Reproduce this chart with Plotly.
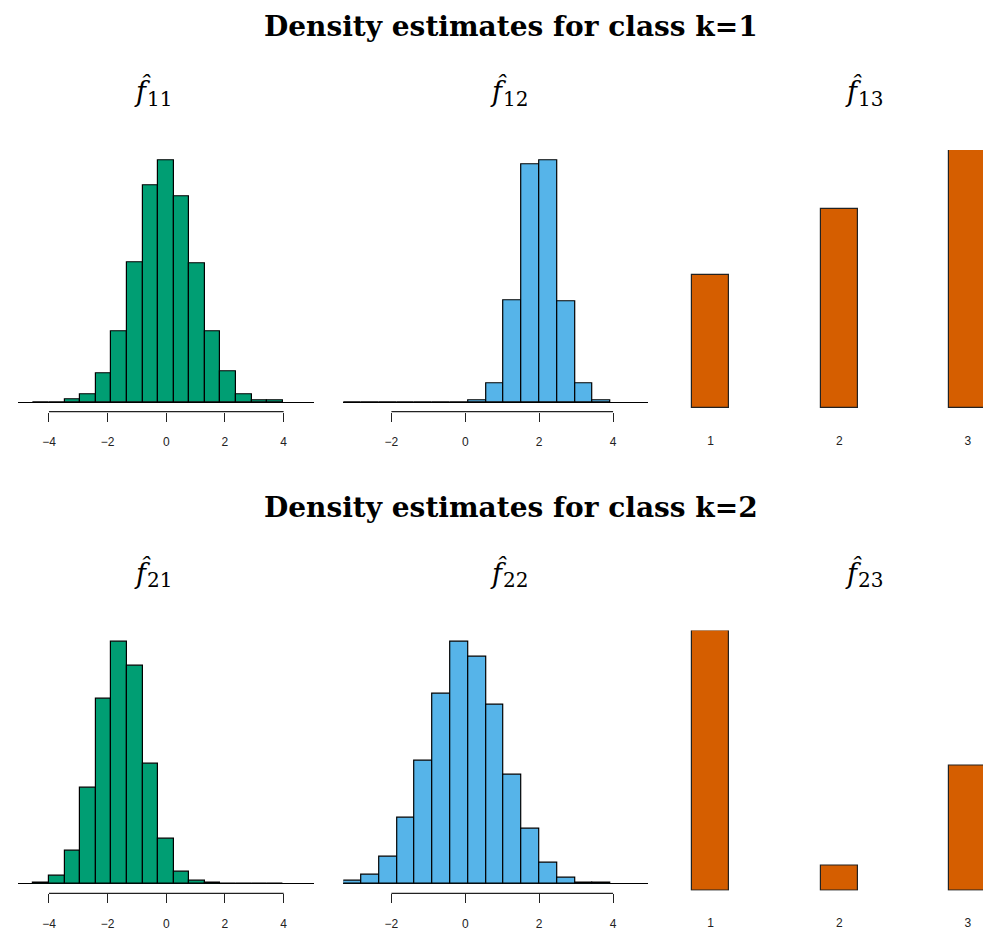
import numpy as np
import plotly.graph_objects as go

W, H = 983, 931

# ---------------- data ----------------
# bin edges (shared within each column)
edges_col1 = [-4.53, -4.00, -3.47, -2.94, -2.41, -1.87, -1.34, -0.81, -0.28,
              0.25, 0.78, 1.31, 1.84, 2.37, 2.91, 3.44, 3.97]
edges_col2 = [-3.30, -2.82, -2.34, -1.85, -1.37, -0.89, -0.41, 0.07, 0.56,
              1.04, 1.52, 2.00, 2.48, 2.97, 3.45, 3.93]

# density estimates, class k=1
f11 = [0, 0, 0.005, 0.013, 0.046, 0.115, 0.226, 0.350, 0.391, 0.332, 0.224,
       0.115, 0.049, 0.013, 0.002, 0.002]
f12 = [0, 0, 0, 0, 0, 0, 0, 0.004, 0.054, 0.292, 0.683, 0.694, 0.290,
       0.054, 0.004]
f13 = [0.225, 0.338, 0.437]

# density estimates, class k=2
f21 = [0.002, 0.016, 0.064, 0.188, 0.362, 0.473, 0.425, 0.234, 0.088,
       0.023, 0.005, 0.002, 0, 0, 0, 0]
f22 = [0.004, 0.015, 0.044, 0.109, 0.203, 0.313, 0.399, 0.373, 0.295,
       0.179, 0.091, 0.035, 0.009, 0.002, 0.002]
f23 = [0.633, 0.062, 0.305]

categories = [1, 2, 3]
ticks_col1 = [-4, -2, 0, 2, 4]
ticks_col2 = [-2, 0, 2, 4]

row_titles = ["Density estimates for class k=1", "Density estimates for class k=2"]
panel_titles = [["11", "12", "13"], ["21", "22", "23"]]

GREEN = "#009E73"
BLUE = "#56B4E9"
ORANGE = "#D55E00"

# ---------------- layout geometry (pixels) ----------------
def px_x(p):
    return p / W

def px_y(p):
    return 1 - p / H

col_x_px = [(18, 314), (343.3, 647.7), (660, 983)]
col_xrange = [(-5.056, 5.036), (-3.303, 4.938), (0.606, 3.117)]
hist_y_px = [(151.0, 413.5), (634.5, 897.2)]
bar_y_px = [(150.7, 410.3), (633.3, 894.7)]
title_y_px = [27, 510]
sub_f_y_px = [91, 575]      # centre of the f-hat glyph
sub_d_y_px = [99, 583]      # centre of the subscript digits
sub_x_px = [152, 508, 863]  # junction between f-hat and the subscript

fig = go.Figure()

hist_data = [[(f11, edges_col1, GREEN, ticks_col1), (f12, edges_col2, BLUE, ticks_col2)],
             [(f21, edges_col1, GREEN, ticks_col1), (f22, edges_col2, BLUE, ticks_col2)]]
bar_data = [f13, f23]

tick_font = dict(family="Liberation Sans, Arial", size=12, color="#222")

ax = 0
annotations = []
shapes = []
for r in range(2):
    for c in range(3):
        ax += 1
        xname = "x" if ax == 1 else f"x{ax}"
        yname = "y" if ax == 1 else f"y{ax}"
        xkey = "xaxis" if ax == 1 else f"xaxis{ax}"
        ykey = "yaxis" if ax == 1 else f"yaxis{ax}"
        if c < 2:
            vals, edges, color, ticks = hist_data[r][c]
            e = np.array(edges)
            centers = (e[:-1] + e[1:]) / 2
            widths = e[1:] - e[:-1]
            fig.add_trace(go.Bar(x=centers, y=vals, width=widths,
                                 marker=dict(color=color, line=dict(color="black", width=1.2)),
                                 xaxis=xname, yaxis=yname, showlegend=False,
                                 hoverinfo="skip"))
            m = max(vals)
            fig.layout[xkey] = dict(
                domain=[px_x(col_x_px[c][0]), px_x(col_x_px[c][1])],
                range=list(col_xrange[c]), anchor=yname,
                tickmode="array", tickvals=ticks, ticks="outside", ticklen=9,
                tickwidth=1.2, tickcolor="#222", showline=False, showgrid=False,
                zeroline=False, tickfont=tick_font,
                ticklabelstandoff=10, fixedrange=True)
            fig.layout[ykey] = dict(
                domain=[px_y(hist_y_px[r][1]), px_y(hist_y_px[r][0])],
                range=[-0.04 * m, 1.04 * m], anchor=xname,
                showticklabels=False, ticks="", showgrid=False, showline=False,
                zeroline=True, zerolinecolor="black", zerolinewidth=1.2, fixedrange=True)
            shapes.append(dict(type="line", xref=xname, yref=f"{yname} domain",
                               x0=ticks[0], x1=ticks[-1], y0=0, y1=0,
                               line=dict(color="#222", width=1.2)))
        else:
            vals = bar_data[r]
            fig.add_trace(go.Bar(x=categories, y=vals, width=0.29,
                                 marker=dict(color=ORANGE, line=dict(color="#222", width=1.2)),
                                 xaxis=xname, yaxis=yname, showlegend=False,
                                 hoverinfo="skip"))
            fig.layout[xkey] = dict(
                domain=[px_x(col_x_px[c][0]), px_x(col_x_px[c][1])],
                range=list(col_xrange[c]), anchor=yname,
                tickmode="array", tickvals=categories, ticks="", showline=False,
                showgrid=False, zeroline=False, tickfont=tick_font,
                ticklabelstandoff=23, fixedrange=True)
            fig.layout[ykey] = dict(
                domain=[px_y(bar_y_px[r][1]), px_y(bar_y_px[r][0])],
                range=[0, max(vals)], anchor=xname,
                showticklabels=False, ticks="", showgrid=False, showline=False,
                zeroline=False, fixedrange=True)
        # panel title: f-hat with a subscript index
        annotations.append(dict(
            text="<i>f\u0302</i>",
            x=px_x(sub_x_px[c] + 2), y=px_y(sub_f_y_px[r]), xref="paper", yref="paper",
            xanchor="right", yanchor="middle", showarrow=False,
            font=dict(family="DejaVu Serif", size=27, color="black")))
        annotations.append(dict(
            text=panel_titles[r][c],
            x=px_x(sub_x_px[c] - 7), y=px_y(sub_d_y_px[r]), xref="paper", yref="paper",
            xanchor="left", yanchor="middle", showarrow=False,
            font=dict(family="DejaVu Serif", size=20, color="black")))
    annotations.append(dict(
        text=f"<b>{row_titles[r]}</b>",
        x=px_x(511), y=px_y(title_y_px[r]), xref="paper", yref="paper",
        xanchor="center", yanchor="middle", showarrow=False,
        font=dict(family="DejaVu Serif", size=28, color="black")))

fig.update_layout(
    width=W, height=H, margin=dict(l=0, r=0, t=0, b=0),
    paper_bgcolor="white", plot_bgcolor="white",
    bargap=0, annotations=annotations, shapes=shapes, showlegend=False)

fig.write_html(
    "out.html",
    config={"displayModeBar": False},
    post_script="document.body.style.margin='0';document.body.style.padding='0';"
                "document.body.style.overflow='hidden';")
